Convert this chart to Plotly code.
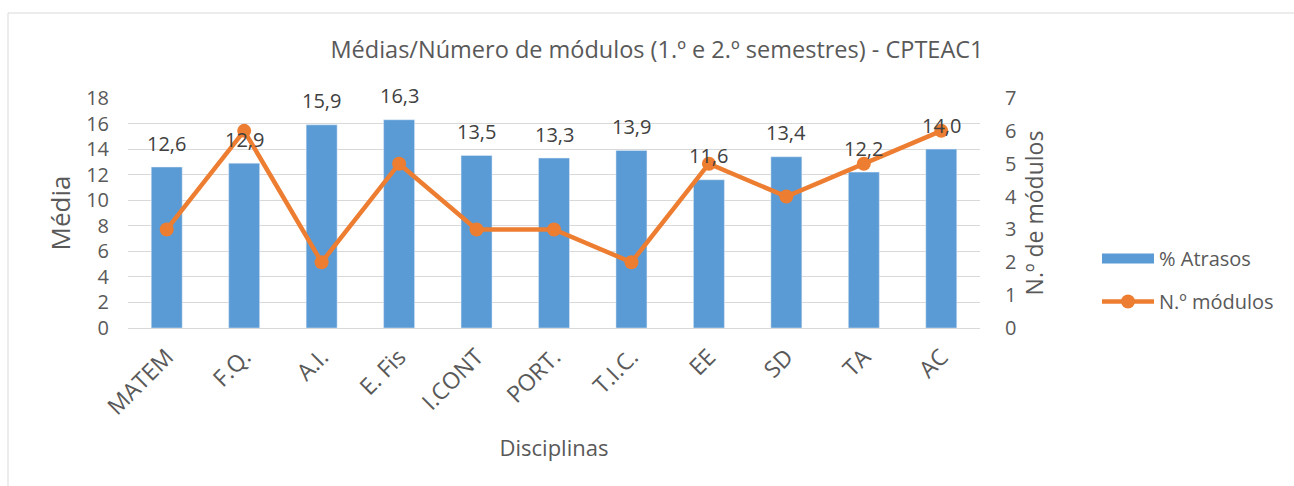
import plotly.graph_objects as go

categories = ["MATEM", "F.Q.", "A.I.", "E. Fis", "I.CONT", "PORT.", "T.I.C.", "EE", "SD", "TA", "AC"]
medias = [12.6, 12.9, 15.9, 16.3, 13.5, 13.3, 13.9, 11.6, 13.4, 12.2, 14.0]
modulos = [3, 6, 2, 5, 3, 3, 2, 5, 4, 5, 6]
left_ticks = [0, 2, 4, 6, 8, 10, 12, 14, 16, 18]
right_ticks = [0, 1, 2, 3, 4, 5, 6, 7]

FONT = "Open Sans"
TXT = "#595959"
BLUE = "#5B9BD5"
ORANGE = "#ED7D31"
W, H = 1294, 486
L, R, T, B = 128, 314, 98, 158
pw, ph = W - L - R, H - T - B

fig = go.Figure()
fig.add_trace(go.Bar(
    x=categories, y=medias, name="% Atrasos",
    marker=dict(color=BLUE), showlegend=False, yaxis="y",
))
# legend stand-in for the bar series (wide rectangle swatch)
fig.add_trace(go.Scatter(
    x=[None], y=[None], name="% Atrasos", mode="lines",
    line=dict(color=BLUE, width=17), legendgroup="a", yaxis="y",
))
fig.add_trace(go.Scatter(
    x=categories, y=modulos, name="N.º módulos", mode="lines+markers",
    line=dict(color=ORANGE, width=4.5), marker=dict(color=ORANGE, size=14),
    legendgroup="b", yaxis="y2",
))

annotations = []
for c, v in zip(categories, medias):
    annotations.append(dict(
        x=c, y=v, xref="x", yref="y", text=f"{v:.1f}".replace(".", ","),
        showarrow=False, yshift=24, font=dict(family=FONT, size=20, color="#404040"),
    ))

fig.update_layout(
    width=W, height=H,
    margin=dict(l=L, r=R, t=T, b=B, autoexpand=False),
    paper_bgcolor="white", plot_bgcolor="white",
    font=dict(family=FONT, color=TXT, size=20),
    title=dict(text="Médias/Número de módulos (1.º e 2.º semestres) - CPTEAC1",
               x=657 / W, xanchor="center", y=1 - 50 / H, yanchor="middle",
               font=dict(family=FONT, size=23.5, color=TXT)),
    bargap=0.6,
    xaxis=dict(tickangle=-45, tickfont=dict(size=23, color=TXT), showgrid=False,
               range=[-0.5, len(categories) - 0.5],
               showline=False, ticks="", automargin=False, ticklabelstandoff=10,
               title=dict(text="Disciplinas", font=dict(size=22, color=TXT), standoff=20)),
    yaxis=dict(range=[0, 18], tickvals=left_ticks, showgrid=True, gridcolor="#D9D9D9",
               gridwidth=1.3, zeroline=True, zerolinecolor="#D9D9D9", zerolinewidth=1.3,
               ticks="", automargin=False, ticklabelstandoff=18,
               tickfont=dict(size=20, color=TXT),
               title=dict(text="Média", font=dict(size=26, color=TXT), standoff=8)),
    yaxis2=dict(range=[0, 7], tickvals=right_ticks, overlaying="y", side="right",
                showgrid=False, zeroline=False, ticks="", automargin=False,
                ticklabelstandoff=24, tickfont=dict(size=20, color=TXT),
                title=dict(text="N.º de módulos", font=dict(size=23, color=TXT), standoff=10)),
    legend=dict(x=(1097 - L) / pw, xanchor="left", y=(H - B - 239) / ph, yanchor="top",
                font=dict(size=20, color=TXT), traceorder="grouped", tracegroupgap=14,
                itemwidth=52, bgcolor="rgba(0,0,0,0)"),
    annotations=annotations,
    shapes=[dict(type="rect", xref="paper", yref="paper",
                 x0=(8 - L) / pw, x1=(1310 - L) / pw,
                 y0=(H - B - 495) / ph, y1=(H - B - 13) / ph,
                 line=dict(color="#D9D9D9", width=1), fillcolor="rgba(0,0,0,0)", layer="below")],
)

fig.write_html("out.html", config={"displayModeBar": False},
               post_script="document.body.style.margin='0';")
